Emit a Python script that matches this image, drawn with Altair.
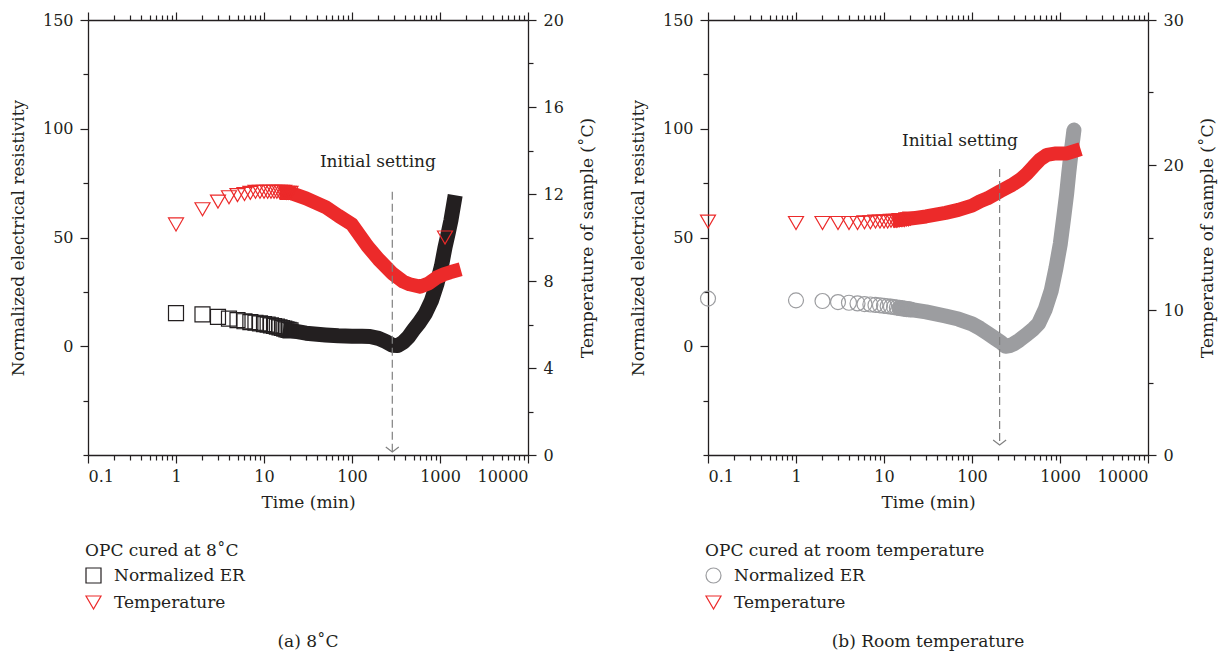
import altair as alt
import pandas as pd

FONT = "DejaVu Serif"
INK = "#231f20"
RED = "#ec2a2a"
GREY = "#9c9da0"
DASH = "#808080"

# ---------------- data: panel (a) cured at 8 C ----------------
a_er_pts_t = [1, 2, 3, 4, 5, 6, 7, 8, 9, 10, 11, 12, 13, 14, 15, 16, 17, 18, 19, 20]
a_er_pts_v = [15.2, 14.7, 13.5, 12.7, 12.0, 11.5, 11.1, 10.8, 10.5, 10.2, 9.9, 9.6, 9.3, 9.0, 8.7, 8.4, 8.1, 7.8, 7.5, 7.3]
a_er_band_t = [20, 30, 50, 70, 100, 130, 160, 200, 240, 287, 330, 380, 439, 500, 580, 681, 800, 925, 1040, 1140, 1240, 1330, 1440]
a_er_band_v = [7.3, 6.0, 5.2, 4.8, 4.6, 4.6, 4.5, 3.6, 2.2, 0.5, 0.3, 1.8, 4.3, 7.5, 10.8, 15.0, 21.0, 28.8, 37.0, 45.5, 52.0, 57.8, 66.0]

a_tp_pts_t = [1, 2, 3, 4, 5, 6, 7, 8, 9, 10, 11, 12, 13, 14, 15, 16, 17, 18, 19, 20, 1140]
a_tp_pts_v = [10.6, 11.3, 11.65, 11.85, 11.95, 12.0, 12.05, 12.1, 12.1, 12.1, 12.1, 12.1, 12.1, 12.1, 12.1, 12.1, 12.1, 12.05, 12.05, 12.05, 10.0]
a_tp_band_t = [18, 20, 30, 50, 70, 100, 150, 200, 287, 382, 450, 594, 750, 917, 1100, 1300, 1440]
a_tp_band_v = [12.05, 12.05, 11.8, 11.4, 11.0, 10.6, 9.6, 9.0, 8.35, 7.97, 7.85, 7.74, 7.9, 8.16, 8.3, 8.4, 8.45]

a_arrow = {"t": 287, "top": 71.0, "bottom": -48.6}
a_label = {"t": 197, "v": 84.5, "text": "Initial setting"}

# ---------------- data: panel (b) room temperature ----------------
b_er_pts_t = [0.1, 1, 2, 3, 4, 5, 6, 7, 8, 9, 10, 11, 12, 13, 14, 15, 16, 17, 18, 19, 20]
b_er_pts_v = [21.9, 21.1, 20.8, 20.3, 20.0, 19.7, 19.4, 19.2, 19.0, 18.8, 18.6, 18.4, 18.2, 18.0, 17.8, 17.6, 17.4, 17.3, 17.1, 17.0, 16.9]
b_er_band_t = [15, 20, 30, 50, 70, 100, 124, 150, 180, 210, 240, 270, 300, 345, 420, 500, 571, 680, 797, 900, 1008, 1100, 1189, 1260, 1331, 1440]
b_er_band_v = [17.6, 16.9, 15.8, 13.9, 12.5, 10.3, 8.2, 6.0, 3.8, 2.0, 0.0, 0.3, 1.2, 2.8, 5.5, 8.0, 10.4, 17.0, 25.7, 36.0, 47.1, 59.0, 70.0, 80.0, 88.4, 99.4]

b_tp_pts_t = [0.1, 1, 2, 3, 4, 5, 6, 7, 8, 9, 10, 11, 12, 13, 14, 15, 16, 17, 18, 19, 20]
b_tp_pts_v = [16.1, 16.0, 16.0, 16.0, 16.0, 16.0, 16.05, 16.05, 16.1, 16.1, 16.1, 16.1, 16.15, 16.15, 16.15, 16.2, 16.2, 16.2, 16.25, 16.25, 16.3]
b_tp_band_t = [15, 20, 30, 50, 70, 100, 124, 150, 210, 280, 354, 420, 500, 600, 710, 900, 1200, 1440]
b_tp_band_v = [16.2, 16.3, 16.45, 16.7, 16.9, 17.2, 17.5, 17.7, 18.2, 18.6, 19.0, 19.4, 19.9, 20.4, 20.7, 20.8, 20.8, 20.95]

b_arrow = {"t": 206, "top": 81.5, "bottom": -45.4}
b_label = {"t": 73, "v": 94.5, "text": "Initial setting"}

# ---------------- axes ----------------
X_MAJOR = [0.1, 1, 10, 100, 1000, 10000]
X_TICKS = sorted([m * k for m in X_MAJOR[:-1] for k in range(1, 10)] + [X_MAJOR[-1]])
DECADE = "abs(log(datum.value)/LN10 - round(log(datum.value)/LN10)) < 0.000001"

ER_DOMAIN = [-50, 150]
ER_TICKS = [-50, -25, 0, 25, 50, 75, 100, 125, 150]
ER_LABEL_TEST = "datum.value % 50 == 0 && datum.value > -50"

SERIES = ["Normalized ER", "Temperature"]

common_axis = dict(
    grid=False, domainColor=INK, domainWidth=1.3, tickColor=INK, tickWidth=1.2,
    labelFont=FONT, labelFontSize=16, labelColor=INK, titleFont=FONT, titleFontSize=17,
    titleFontWeight="normal", titleColor=INK, labelOverlap=False,
)


def ticksize(test):
    return {"condition": {"test": test, "value": 8}, "value": 5}


x_bottom = alt.Axis(
    orient="bottom", values=X_TICKS, title="Time (min)", tickSize=ticksize(DECADE),
    labelExpr=f"({DECADE}) ? format(datum.value, '~g') : ''", labelPadding=5, titlePadding=10,
    **common_axis,
)
x_top = alt.Axis(
    orient="top", values=X_TICKS, title=None, labels=False, tickSize=ticksize(DECADE), **common_axis
)
y_left = alt.Axis(
    orient="left", values=ER_TICKS, title="Normalized electrical resistivity",
    tickSize=ticksize(ER_LABEL_TEST), labelExpr=f"({ER_LABEL_TEST}) ? datum.label : ''",
    labelPadding=7, titlePadding=15, **common_axis,
)


def xs(axis):
    return alt.X("t:Q", scale=alt.Scale(type="log", domain=[0.1, 10000], nice=False), axis=axis)


def panel(er_pt, er_pv, er_bt, er_bv, tp_pt, tp_pv, tp_bt, tp_bv, arrow, label,
          er_shape, er_color, er_cap, tmax, tstep, tlabstep, legend_title, subtitle):
    er_pts = pd.DataFrame({"t": er_pt, "v": er_pv, "series": SERIES[0]})
    er_band = pd.DataFrame({"t": er_bt, "v": er_bv})
    tp_pts = pd.DataFrame({"t": tp_pt, "v": tp_pv, "series": SERIES[1]})
    tp_band = pd.DataFrame({"t": tp_bt, "v": tp_bv})
    arr = pd.DataFrame([arrow])
    lab = pd.DataFrame([label])

    legend = alt.Legend(
        title=legend_title, orient="none", legendX=-3, legendY=523, padding=0,
        titleFont=FONT, titleFontSize=17, titleFontWeight="normal", titleColor=INK, titlePadding=7,
        titleLimit=500, labelLimit=500,
        labelFont=FONT, labelFontSize=17, labelColor=INK, labelOffset=12,
        symbolSize=225, symbolStrokeWidth=1.2, rowPadding=7,
    )
    color = alt.Color("series:N", scale=alt.Scale(domain=SERIES, range=[er_color, RED]), legend=legend)
    shape = alt.Shape("series:N", scale=alt.Scale(domain=SERIES, range=[er_shape, "triangle-down"]), legend=legend)

    y_er = alt.Y("v:Q", scale=alt.Scale(domain=ER_DOMAIN, nice=False, zero=False), axis=y_left)
    er_group = alt.layer(
        alt.Chart(er_band).mark_line(strokeWidth=15, color=er_color, strokeCap=er_cap, strokeJoin="round").encode(
            x=xs(x_bottom), y=y_er),
        alt.Chart(er_pts).mark_point(filled=False, size=225, strokeWidth=1.2, opacity=1).encode(
            x=xs(x_bottom), y=y_er, color=color, shape=shape),
    )

    t_test = f"datum.value % {tlabstep} == 0"
    y_right = alt.Axis(
        orient="right", values=list(range(0, tmax + 1, tstep)), title="Temperature of sample (˚C)",
        tickSize=ticksize(t_test), labelExpr=f"({t_test}) ? datum.label : ''",
        titleAngle=270, titleBaseline="top",
        labelPadding=7, titlePadding=16, **common_axis,
    )
    y_tp = alt.Y("v:Q", scale=alt.Scale(domain=[0, tmax], nice=False, zero=False), axis=y_right)
    tp_group = alt.layer(
        alt.Chart(tp_band).mark_line(strokeWidth=14, color=RED, strokeCap="square", strokeJoin="round").encode(
            x=xs(x_top), y=y_tp),
        alt.Chart(tp_pts).mark_point(filled=False, size=225, strokeWidth=1.2, opacity=1).encode(
            x=xs(x_top), y=y_tp, color=color, shape=shape),
    )

    y_ann = alt.Scale(domain=ER_DOMAIN, nice=False, zero=False)
    ann_group = alt.layer(
        alt.Chart(arr).mark_rule(color=DASH, strokeWidth=1.2, strokeDash=[8, 4]).encode(
            x=xs(None), y=alt.Y("top:Q", scale=y_ann, axis=None), y2="bottom:Q"),
        alt.Chart(arr).mark_point(shape="M -1.3 -1 L 0 0 L 1.3 -1", filled=False, size=100,
                                  color=DASH, strokeWidth=1.2, opacity=1).encode(
            x=xs(None), y=alt.Y("bottom:Q", scale=y_ann, axis=None)),
        alt.Chart(lab).mark_text(font=FONT, fontSize=17, color=INK, align="center", baseline="middle").encode(
            x=xs(None), y=alt.Y("v:Q", scale=y_ann, axis=None), text="text:N"),
    )

    return alt.layer(er_group, tp_group, ann_group).resolve_scale(y="independent").resolve_axis(
        x="independent").properties(
        width=440, height=435,
        title=alt.TitleParams(text=subtitle, orient="bottom", font=FONT, fontSize=17, fontWeight="normal",
                              color=INK, anchor="middle", offset=22),
    )


left = panel(a_er_pts_t, a_er_pts_v, a_er_band_t, a_er_band_v, a_tp_pts_t, a_tp_pts_v, a_tp_band_t, a_tp_band_v,
             a_arrow, a_label, "square", INK, "square", 20, 2, 4, "OPC cured at 8˚C", "(a)  8˚C")
right = panel(b_er_pts_t, b_er_pts_v, b_er_band_t, b_er_band_v, b_tp_pts_t, b_tp_pts_v, b_tp_band_t, b_tp_band_v,
              b_arrow, b_label, "circle", GREY, "round", 30, 5, 10, "OPC cured at room temperature",
              "(b)  Room temperature")

chart = alt.hconcat(left, right, spacing=33).resolve_scale(color="independent", shape="independent").properties(
    padding={"left": 9, "top": 11, "right": 5, "bottom": 5}, background="white"
).configure_view(stroke=None)

chart.save("out.html", embed_options={"renderer": "svg", "actions": False})
